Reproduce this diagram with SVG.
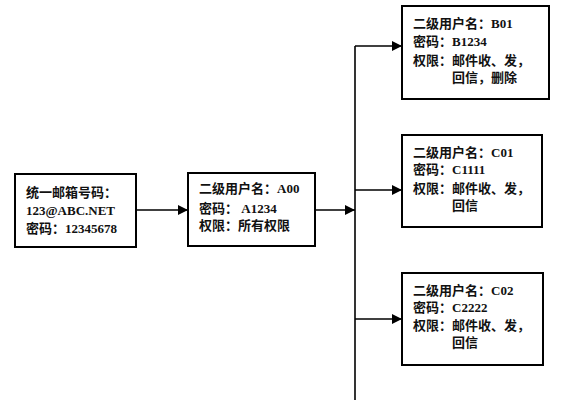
<svg xmlns="http://www.w3.org/2000/svg" width="576" height="400" viewBox="0 0 576 400">
<defs>
<marker id="ah" markerWidth="10" markerHeight="10" viewBox="0 0 10 10" refX="10" refY="5" orient="auto" markerUnits="userSpaceOnUse">
<path d="M0,0 L10,5 L0,10 Z" fill="#000"/>
</marker>
<style>
.box{fill:#fff;stroke:#000;stroke-width:2}
.t{font-family:"Liberation Serif","Noto Sans CJK SC",serif;font-size:13px;font-weight:bold;fill:#111}
.c{fill:none;stroke:#000;stroke-width:1.6}
</style>
</defs>
<rect width="576" height="400" fill="#fff"/>
<g id="connectors">
<line class="c" x1="136" y1="210" x2="188" y2="210" marker-end="url(#ah)"/>
<line class="c" x1="315" y1="210" x2="355" y2="210" marker-end="url(#ah)"/>
<line class="c" x1="355" y1="400" x2="355" y2="46"/>
<line class="c" x1="355" y1="46" x2="402" y2="46" marker-end="url(#ah)"/>
<line class="c" x1="355" y1="190" x2="402" y2="190" marker-end="url(#ah)"/>
<line class="c" x1="355" y1="319" x2="402" y2="319" marker-end="url(#ah)"/>
</g>
<g id="main">
<rect class="box" x="15" y="174" width="121" height="73"/>
<text class="t" x="26" y="197">统一邮箱号码：</text>
<text class="t" x="26" y="215">123@ABC.NET</text>
<text class="t" x="26" y="233">密码：12345678</text>
</g>
<g id="a00">
<rect class="box" x="188" y="173" width="127" height="73"/>
<text class="t" x="199" y="193">二级用户名：A00</text>
<text class="t" x="199" y="213">密码：  A1234</text>
<text class="t" x="199" y="230">权限：所有权限</text>
</g>
<g id="b01">
<rect class="box" x="402" y="6" width="147" height="93"/>
<text class="t" x="413" y="28">二级用户名：B01</text>
<text class="t" x="413" y="46">密码：B1234</text>
<text class="t" x="413" y="65">权限：邮件收、发，</text>
<text class="t" x="452" y="82">回信，删除</text>
</g>
<g id="c01">
<rect class="box" x="402" y="135" width="140" height="92"/>
<text class="t" x="413" y="157">二级用户名：C01</text>
<text class="t" x="413" y="174">密码：C1111</text>
<text class="t" x="413" y="193">权限：邮件收、发，</text>
<text class="t" x="452" y="210">回信</text>
</g>
<g id="c02">
<rect class="box" x="402" y="273" width="141" height="92"/>
<text class="t" x="413" y="295">二级用户名：C02</text>
<text class="t" x="413" y="312">密码：C2222</text>
<text class="t" x="413" y="330">权限：邮件收、发，</text>
<text class="t" x="452" y="347">回信</text>
</g>
</svg>
